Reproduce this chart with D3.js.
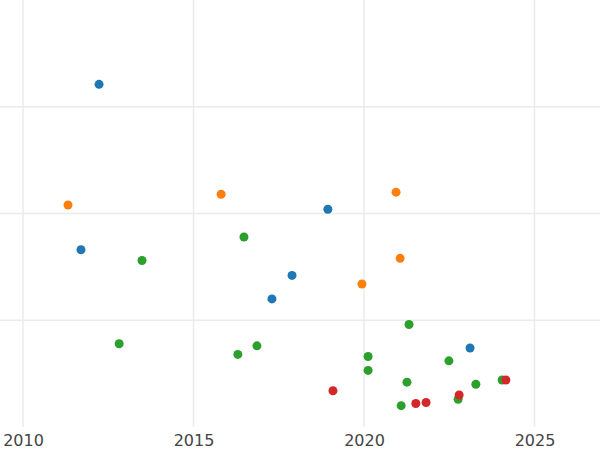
<!DOCTYPE html>
<html><head><meta charset="utf-8">
<script src="https://cdn.jsdelivr.net/npm/d3@7"></script>
<style>body{margin:0;background:#fff}</style>
</head><body>
<div id="chart"></div>
<script>
// series values
const blueX = [2012.23, 2011.70, 2018.94, 2017.89, 2017.30, 2023.11];
const blueY = [3.21, 1.66, 2.04, 1.42, 1.20, 0.74];
const orangeX = [2011.32, 2015.81, 2020.94, 2021.06, 2019.94];
const orangeY = [2.08, 2.18, 2.20, 1.58, 1.34];
const greenX = [2013.49, 2016.48, 2012.82, 2016.30, 2016.86, 2021.32, 2020.12, 2020.12, 2022.49, 2021.26, 2023.28, 2021.09, 2022.76, 2024.05];
const greenY = [1.56, 1.78, 0.78, 0.68, 0.76, 0.96, 0.66, 0.53, 0.62, 0.42, 0.40, 0.20, 0.26, 0.44];
const redX = [2019.09, 2021.52, 2021.82, 2022.79, 2024.16];
const redY = [0.34, 0.22, 0.23, 0.30, 0.44];
const xTicks = [2010, 2015, 2020, 2025];
const yGrid = [1, 2, 3];

const series = [
    { xs: blueX, ys: blueY, color: '#1f77b4' },
    { xs: orangeX, ys: orangeY, color: '#ff7f0e' },
    { xs: greenX, ys: greenY, color: '#2ca02c' },
    { xs: redX, ys: redY, color: '#d62728' }
];

const width = 600, height = 450;
const svg = d3.select('#chart').append('svg')
    .attr('width', width).attr('height', height);

const x = d3.scaleLinear().domain([2010 - 23 / 34.1, 2010 + 577 / 34.1]).range([0, width]);
const y = d3.scaleLinear().domain([0, 4]).range([427, 0]);

// grid
svg.append('g').selectAll('line').data(xTicks).join('line')
    .attr('x1', d => x(d)).attr('x2', d => x(d))
    .attr('y1', 0).attr('y2', 427)
    .attr('stroke', '#ebebeb').attr('stroke-width', 1.5);
svg.append('g').selectAll('line').data(yGrid).join('line')
    .attr('x1', 0).attr('x2', width)
    .attr('y1', d => y(d)).attr('y2', d => y(d))
    .attr('stroke', '#ebebeb').attr('stroke-width', 1.5);

// x axis labels
const axis = svg.append('g')
    .attr('transform', 'translate(0,427)')
    .call(d3.axisBottom(x).tickValues(xTicks).tickFormat(d3.format('d')).tickSize(0).tickPadding(8));
axis.select('.domain').remove();
axis.selectAll('text')
    .attr('font-family', 'DejaVu Sans').attr('font-size', 16).attr('fill', '#444');

// points
series.forEach(function (s) {
    svg.append('g').selectAll('circle').data(s.xs).join('circle')
        .attr('cx', d => x(d))
        .attr('cy', (d, i) => y(s.ys[i]))
        .attr('r', 4.5)
        .attr('fill', s.color);
});
</script>
</body></html>
